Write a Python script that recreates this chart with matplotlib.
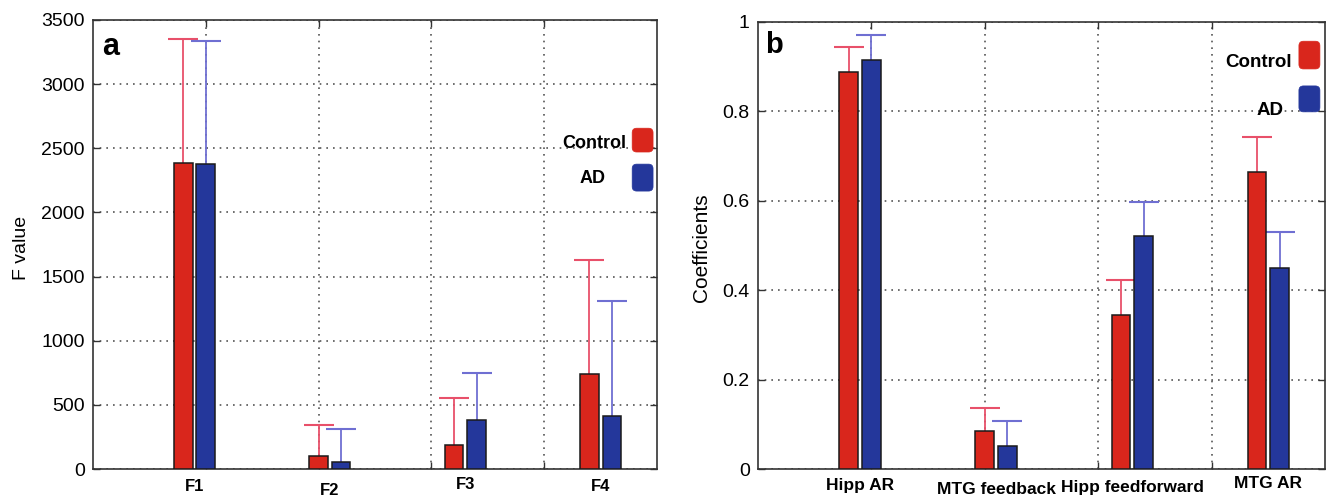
import matplotlib
matplotlib.use('Agg')
import matplotlib.pyplot as plt
import numpy as np
from matplotlib.patches import FancyBboxPatch

plt.rcParams['font.family'] = ['Liberation Sans', 'DejaVu Sans']

# ---------------- data ----------------
left_categories = ['F1', 'F2', 'F3', 'F4']
left_control = [2383, 100, 188, 737]
left_control_err = [971, 240, 364, 890]
left_ad = [2375, 58, 383, 411]
left_ad_err = [961, 252, 364, 899]
left_yticks = [0, 500, 1000, 1500, 2000, 2500, 3000, 3500]

right_categories = ['Hipp AR', 'MTG feedback', 'Hipp feedforward', 'MTG AR']
right_control = [0.889, 0.085, 0.345, 0.665]
right_control_err = [0.056, 0.052, 0.077, 0.078]
right_ad = [0.915, 0.052, 0.521, 0.450]
right_ad_err = [0.057, 0.055, 0.076, 0.080]
right_yticks = [0, 0.2, 0.4, 0.6, 0.8, 1.0]
right_yticklabels = ['0', '0.2', '0.4', '0.6', '0.8', '1']

series_names = ['Control', 'AD']

# ---------------- style ----------------
RED = '#d9261c'
BLUE = '#24379b'
RED_ERR = '#e8506a'
BLUE_ERR = '#6f6fd2'
FRAME = '#333333'

W, H = 1328, 497
fig = plt.figure(figsize=(W / 100, H / 100), dpi=100)


def px_axes(x0, x1, ytop, ybot):
    return fig.add_axes([x0 / W, (H - ybot) / H, (x1 - x0) / W, (ybot - ytop) / H])


def upper_errorbar(ax, x, y, err, color):
    _, caps, _ = ax.errorbar(x, y, yerr=[np.zeros(len(y)), err], fmt='none',
                             ecolor=color, elinewidth=1.3, capsize=11, capthick=1.5,
                             zorder=2)
    # keep only the upper cap (one-sided error bars)
    if len(caps) == 2:
        caps[0].set_visible(False)


def draw_panel(ax, cats, ctrl, ctrl_err, ad, ad_err, ylim, yticks, yticklabels,
               label_offsets, label_size, panel_letter, letter_pos, letter_size,
               legend_cfg):
    pos = 0.9 + 1.2 * np.arange(len(cats))
    bw = 0.165
    off = 0.1
    ax.set_xlim(0, 5)
    ax.set_ylim(*ylim)
    ax.set_xticks([1, 2, 3, 4])
    ax.set_xticklabels([])
    ax.set_yticks(yticks)
    ax.set_yticklabels(yticklabels)
    ax.grid(True, linestyle=(0, (1, 3)), color='#555555', linewidth=1.2)
    ax.set_axisbelow(True)
    ax.tick_params(direction='in', length=5, width=1, color=FRAME,
                   top=True, right=True, labelsize=14, pad=6)
    for s in ax.spines.values():
        s.set_color(FRAME)
        s.set_linewidth(1.2)

    upper_errorbar(ax, pos - off, ctrl, ctrl_err, RED_ERR)
    upper_errorbar(ax, pos + off, ad, ad_err, BLUE_ERR)
    ax.bar(pos - off, ctrl, width=bw, color=RED, edgecolor='#1a1a1a', linewidth=1.1, zorder=3)
    ax.bar(pos + off, ad, width=bw, color=BLUE, edgecolor='#1a1a1a', linewidth=1.1, zorder=3)

    tr = ax.get_xaxis_transform()
    for p, c, dy in zip(pos, cats, label_offsets):
        ax.text(p, dy, c, transform=tr, ha='center', va='center',
                fontsize=label_size, fontweight='bold', clip_on=False)

    ax.text(letter_pos[0], letter_pos[1], panel_letter, transform=ax.transAxes,
            ha='left', va='baseline', fontsize=letter_size, fontweight='bold')

    # legend drawn manually (text to the left of rounded squares)
    aspect = legend_cfg['aspect']
    for name, col, (bx0, bx1, by0, by1), (tx, ty) in zip(
            series_names, [RED, BLUE], legend_cfg['boxes'], legend_cfg['texts']):
        patch = FancyBboxPatch((bx0, by0), bx1 - bx0, by1 - by0,
                               boxstyle='round,pad=0,rounding_size=0.008',
                               mutation_aspect=aspect,
                               transform=ax.transAxes, facecolor=col,
                               edgecolor=col, linewidth=0.5, zorder=5, clip_on=False)
        ax.add_patch(patch)
        ax.text(tx, ty, name, transform=ax.transAxes, ha='right', va='center',
                fontsize=legend_cfg['size'], fontweight='bold', zorder=5)


# left panel
axL = px_axes(93, 657, 20, 469)
draw_panel(axL, left_categories, left_control, left_control_err, left_ad, left_ad_err,
           (0, 3500), left_yticks, [str(v) for v in left_yticks],
           [-0.038, -0.048, -0.034, -0.040], 12, 'a', (0.016, 0.922), 22,
           dict(aspect=564 / 449,
                boxes=[(0.956, 0.993, 0.706, 0.759), (0.956, 0.993, 0.619, 0.679)],
                texts=[(0.945, 0.726), (0.908, 0.648)], size=13))

# right panel
axR = px_axes(758, 1325, 22, 469)
draw_panel(axR, right_categories, right_control, right_control_err, right_ad, right_ad_err,
           (0, 1), right_yticks, right_yticklabels,
           [-0.036, -0.046, -0.041, -0.033], 12.5, 'b', (0.012, 0.931), 21,
           dict(aspect=567 / 447,
                boxes=[(0.954, 0.991, 0.895, 0.957), (0.954, 0.991, 0.799, 0.857)],
                texts=[(0.942, 0.910), (0.926, 0.803)], size=13.5))

fig.text(22 / W, 1 - 248 / H, 'F value', rotation=90, ha='center', va='center', fontsize=14)
fig.text(702 / W, 1 - 248 / H, 'Coefficients', rotation=90, ha='center', va='center', fontsize=15)

fig.savefig('out.png', dpi=100)
